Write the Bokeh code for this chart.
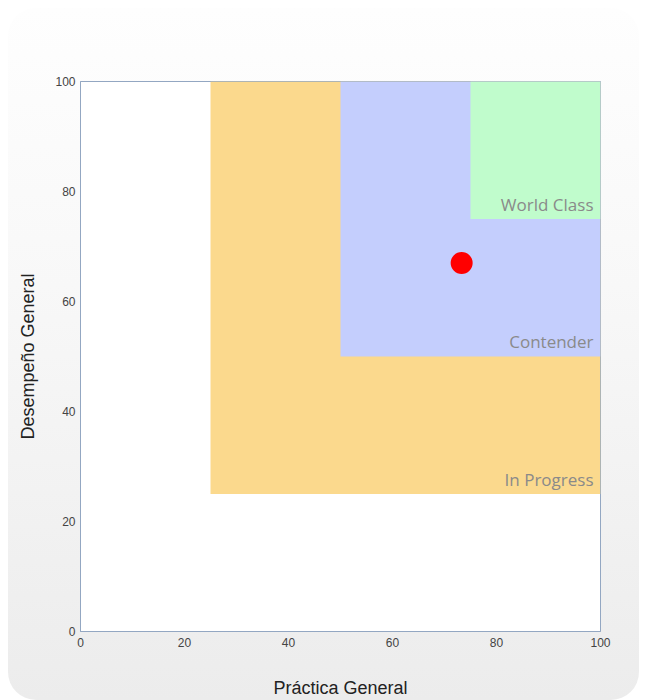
from bokeh.plotting import figure
from bokeh.models import ColumnDataSource, FixedTicker, Range1d
from bokeh.core.properties import value
from bokeh.embed import file_html
from bokeh.resources import INLINE

# --- data ---
region_names = ["In Progress", "Contender", "World Class"]
region_x0 = [25, 50, 75]
region_y0 = [25, 50, 75]
region_x1 = [100, 100, 100]
region_y1 = [100, 100, 100]
region_colors = ["#fbd98d", "#c4cefd", "#c0fccc"]

point_x = [73.3]
point_y = [67.0]

ticks = [0, 20, 40, 60, 80, 100]

FRAME_H = 550
LABEL_LIFT_PX = 15

p = figure(output_backend="svg", toolbar_location=None,
           x_range=Range1d(0, 100), y_range=Range1d(0, 100),
           min_border_left=72, min_border_right=39, min_border_top=73, min_border_bottom=66,
           frame_width=520, frame_height=FRAME_H)
p.border_fill_alpha = 0
p.styles = {"border-radius": "28px", "margin": "8px 0px 0px 8px",
            "background": "linear-gradient(to bottom, #fefefe 0%, #f8f8f8 40%, #ececec 100%)"}
p.background_fill_color = "#ffffff"
p.outline_line_color = "#93a7c2"
p.outline_line_width = 1
p.grid.visible = False

src = ColumnDataSource(dict(left=region_x0, right=region_x1, bottom=region_y0, top=region_y1,
                            color=region_colors, name=region_names))
p.quad(left="left", right="right", bottom="bottom", top="top", fill_color="color",
       line_color=None, source=src)

lift = LABEL_LIFT_PX * 100.0 / FRAME_H
lab = ColumnDataSource(dict(x=region_x1, y=[b + lift for b in region_y0], name=region_names))
p.text(x="x", y="y", text="name", source=lab, text_align="right",
       text_baseline="alphabetic", x_offset=-7,
       text_font=value("Open Sans"), text_font_size="17px", text_color="#8a8a8a")

p.scatter(point_x, point_y, size=22, fill_color="#ff0000", line_color=None)

for ax in (p.xaxis[0], p.yaxis[0]):
    ax.ticker = FixedTicker(ticks=ticks)
    ax.major_tick_line_color = None
    ax.major_tick_out = 0
    ax.major_tick_in = 0
    ax.minor_tick_line_color = None
    ax.minor_tick_out = 0
    ax.axis_line_color = "#93a7c2"
    ax.major_label_text_font = "Liberation Sans"
    ax.major_label_text_font_size = "12px"
    ax.major_label_text_color = "#444444"
    ax.axis_label_text_font = "Liberation Sans"
    ax.axis_label_text_font_size = "18px"
    ax.axis_label_text_font_style = "normal"
    ax.axis_label_text_color = "#222222"

p.xaxis.axis_label = "Práctica General"
p.yaxis.axis_label = "Desempeño General"
p.xaxis.major_label_standoff = 6
p.yaxis.major_label_standoff = 5
p.xaxis.axis_label_standoff = 28
p.yaxis.axis_label_standoff = 14

open("out.html", "w").write(file_html(p, INLINE))
